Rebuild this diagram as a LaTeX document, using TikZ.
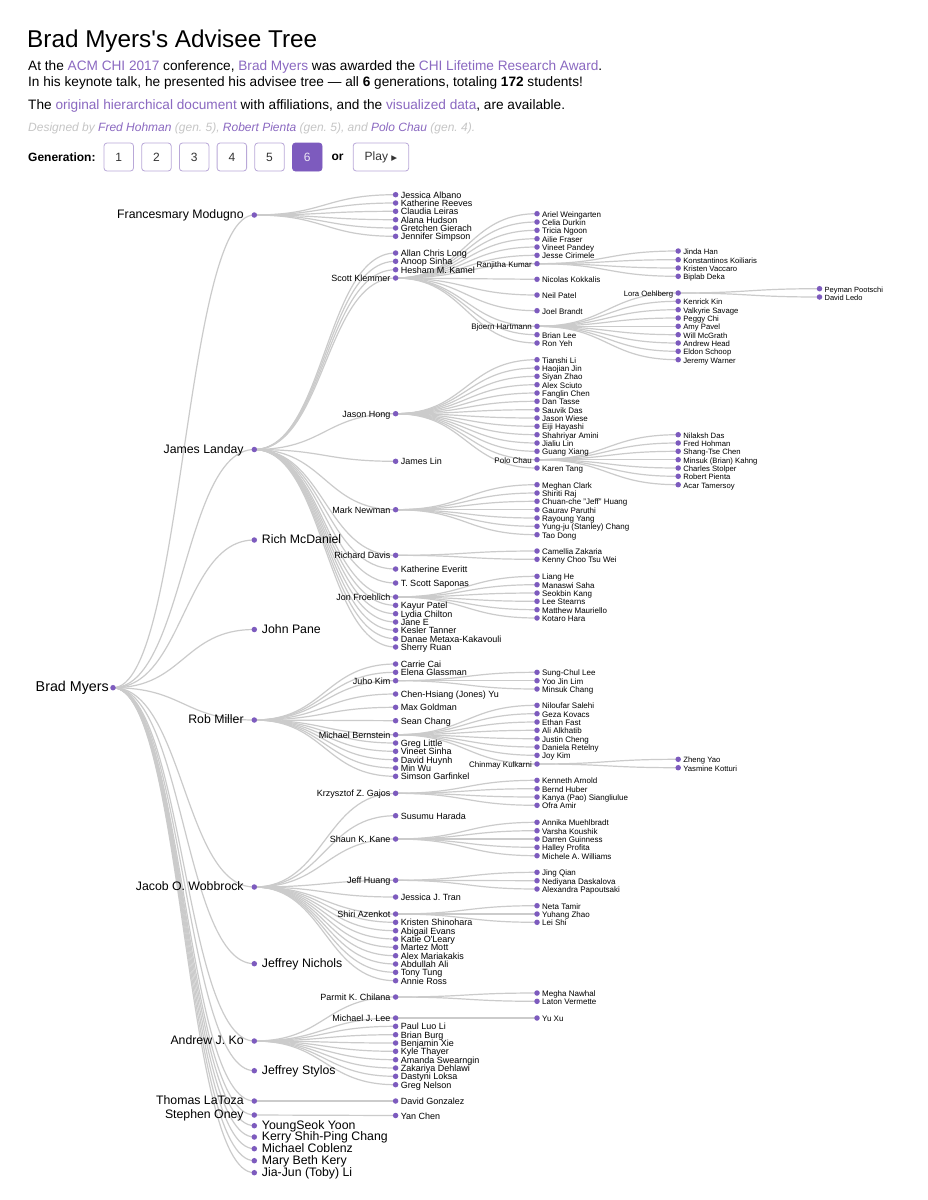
\documentclass[tikz,border=0pt]{standalone}
\usepackage{fontspec}
\setmainfont{Liberation Sans}
\newfontfamily\symfont{DejaVu Sans}
\usetikzlibrary{positioning}

\pgfdeclarelayer{back}
\pgfsetlayers{back,main}

\definecolor{dotpurple}{HTML}{7D5BBE}
\definecolor{linkpurple}{HTML}{8B69C1}
\definecolor{edgegray}{HTML}{CBCBCB}
\definecolor{creditgray}{HTML}{C6C6C6}
\definecolor{btnline}{HTML}{B9A8D8}

\begin{document}
\begin{tikzpicture}[
        x=1pt, y=-1pt,
        dot/.style={circle, fill=dotpurple, inner sep=0pt, minimum size=5.5pt},
        link/.style={draw=edgegray, line width=1.2pt,
            to path={.. controls +(70.65,0) and +(-70.65,0) .. (\tikztotarget)}},
        lab/.style={text height=.72em, text depth=0pt, inner sep=2pt},
        g1/.style={lab, font=\fontsize{14.3}{16}\selectfont, inner sep=1pt},
        g2/.style={lab, font=\fontsize{12.3}{14}\selectfont, inner sep=1.5pt},
        g3/.style={lab, font=\fontsize{9}{10}\selectfont},
        g4/.style={lab, font=\fontsize{8}{9}\selectfont},
        g5/.style={lab, font=\fontsize{7.7}{9}\selectfont},
        g6/.style={lab, font=\fontsize{7.5}{9}\selectfont},
        txt/.style={anchor=base west, inner sep=0pt, font=\fontsize{13.65}{16}\selectfont},
        btn/.style={draw=btnline, rounded corners=3pt, line width=.8pt,
            minimum width=29.5pt, minimum height=28pt, inner sep=0pt,
            text=black!80, font=\fontsize{12}{14}\selectfont}
    ]
    \useasboundingbox (0,0) rectangle (927,1200);
    \begin{pgfonlayer}{back}
        \fill[white] (0,0) rectangle (927,1200);
    \end{pgfonlayer}

    % header
    \node[anchor=base west, inner sep=0pt, font=\fontsize{24.3}{28}\selectfont] (title) at (27,47)
        {Brad Myers\textquotesingle s Advisee Tree};
    \node[txt] (award) at (28,70) {At the \textcolor{linkpurple}{ACM CHI 2017} conference,
        \textcolor{linkpurple}{Brad Myers} was awarded the \textcolor{linkpurple}{CHI Lifetime Research Award}.};
    \node[txt] (keynote) at (28,86) {In his keynote talk, he presented his advisee tree --- all
        \textbf{6} generations, totaling \textbf{172} students!};
    \node[txt] (avail) at (28,109) {The \textcolor{linkpurple}{original hierarchical document} with
        affiliations, and the \textcolor{linkpurple}{visualized data}, are available.};
    \node[txt, font=\itshape\fontsize{12}{14}\selectfont, text=creditgray] (credit) at (28,131)
        {Designed by \textcolor{linkpurple}{Fred Hohman} (gen.~5), \textcolor{linkpurple}{Robert Pienta}
        (gen.~5), and \textcolor{linkpurple}{Polo Chau} (gen.~4).};

    \node[anchor=base west, inner sep=0pt, font=\bfseries\fontsize{12}{14}\selectfont] (genlabel) at (28,161) {Generation:};
    \node[btn] (gen1) at (118.75,157) {1};
    \node[btn, right=7.4pt of gen1] (gen2) {2};
    \node[btn, right=7.4pt of gen2] (gen3) {3};
    \node[btn, right=7.4pt of gen3] (gen4) {4};
    \node[btn, right=7.4pt of gen4] (gen5) {5};
    \node[btn, right=7.4pt of gen5, fill=dotpurple, draw=dotpurple, text=white!85!dotpurple] (gen6) {6};
    \node[right=9pt of gen6, inner sep=0pt, font=\bfseries\fontsize{12}{14}\selectfont] (orword) {or};
    \node[btn, right=9pt of orword, minimum width=55.5pt] (play)
        {Play {\symfont\fontsize{7.5}{9}\selectfont ▶}};

    % root
    \node[dot, label={[g1]left:Brad Myers}] (myers) at (113,687.7) {};

    % second generation
    \foreach \id/\yy/\who in {modugno/215/Francesmary Modugno, landay/449.5/James Landay,
        miller/720/Rob Miller, wobbrock/887/Jacob O. Wobbrock, ko/1041/Andrew J. Ko,
        latoza/1101/Thomas LaToza, oney/1115/Stephen Oney}{
        \node[dot, label={[g2, xshift=-6pt]left:\who}] (\id) at (254.3,\yy) {};
        \begin{pgfonlayer}{back}
            \draw[link] (myers.center) to (\id.center);
        \end{pgfonlayer}
    }
    \foreach \yy/\who [count=\k] in {540/Rich McDaniel, 629.5/John Pane, 963.7/Jeffrey Nichols,
        1070.7/Jeffrey Stylos, 1125.7/YoungSeok Yoon, 1137/Kerry Shih-Ping Chang,
        1148.7/Michael Coblenz, 1160.7/Mary Beth Kery, 1172.7/Jia-Jun (Toby) Li}{
        \node[dot, label={[g2, xshift=3pt]right:\who}] (myers-\k) at (254.3,\yy) {};
        \begin{pgfonlayer}{back}
            \draw[link] (myers.center) to (myers-\k.center);
        \end{pgfonlayer}
    }

    % third generation
    \foreach \up/\id/\yy/\who in {landay/klemmer/278/Scott Klemmer, landay/hong/413.7/Jason Hong,
        landay/newman/509.7/Mark Newman, landay/davis/555.3/Richard Davis,
        landay/froehlich/597/Jon Froehlich, miller/juho/680.7/Juho Kim,
        miller/bernstein/734.7/Michael Bernstein, wobbrock/gajos/793.3/Krzysztof Z. Gajos,
        wobbrock/kane/839/Shaun K. Kane, wobbrock/jhuang/880.3/Jeff Huang,
        wobbrock/azenkot/914/Shiri Azenkot, ko/chilana/997/Parmit K. Chilana,
        ko/mjlee/1018/Michael J. Lee}{
        \node[dot, label={[g3]left:\who}] (\id) at (395.6,\yy) {};
        \begin{pgfonlayer}{back}
            \draw[link] (\up.center) to (\id.center);
        \end{pgfonlayer}
    }
    \foreach \up/\yy/\who [count=\k] in {modugno/194.7/Jessica Albano, modugno/203/Katherine Reeves,
        modugno/211.3/Claudia Leiras, modugno/219.7/Alana Hudson, modugno/228/Gretchen Gierach,
        modugno/236.3/Jennifer Simpson,
        landay/253/Allan Chris Long, landay/261.3/Anoop Sinha, landay/269.7/Hesham M. Kamel,
        landay/461.3/James Lin, landay/569/Katherine Everitt, landay/583/T. Scott Saponas,
        landay/605.3/Kayur Patel, landay/613.7/Lydia Chilton, landay/622/Jane E,
        landay/630.3/Kesler Tanner, landay/638.7/Danae Metaxa-Kakavouli, landay/647/Sherry Ruan,
        miller/664/Carrie Cai, miller/672.3/Elena Glassman, miller/694/Chen-Hsiang (Jones) Yu,
        miller/707.3/Max Goldman, miller/720.7/Sean Chang, miller/743/Greg Little,
        miller/751.3/Vineet Sinha, miller/759.7/David Huynh, miller/768/Min Wu,
        miller/776.3/Simson Garfinkel,
        wobbrock/815.7/Susumu Harada, wobbrock/897/Jessica J. Tran, wobbrock/922.3/Kristen Shinohara,
        wobbrock/930.7/Abigail Evans, wobbrock/939/Katie O\textquotesingle Leary,
        wobbrock/947.3/Martez Mott, wobbrock/955.7/Alex Mariakakis, wobbrock/964/Abdullah Ali,
        wobbrock/972.3/Tony Tung, wobbrock/980.7/Annie Ross,
        ko/1026.3/Paul Luo Li, ko/1034.7/Brian Burg, ko/1043/Benjamin Xie, ko/1051.3/Kyle Thayer,
        ko/1059.7/Amanda Swearngin, ko/1068/Zakariya Dehlawi, ko/1076.3/Dastyni Loksa,
        ko/1084.7/Greg Nelson, latoza/1101/David Gonzalez, oney/1115.5/Yan Chen}{
        \node[dot, label={[g3]right:\who}] (\up-\k) at (395.6,\yy) {};
        \begin{pgfonlayer}{back}
            \draw[link] (\up.center) to (\up-\k.center);
        \end{pgfonlayer}
    }

    % fourth generation
    \foreach \up/\id/\yy/\who in {klemmer/kumar/263.7/Ranjitha Kumar,
        klemmer/hartmann/326.3/Bjoern Hartmann, hong/chau/459.7/Polo Chau,
        bernstein/kulkarni/764/Chinmay Kulkarni}{
        \node[dot, label={[g4]left:\who}] (\id) at (537,\yy) {};
        \begin{pgfonlayer}{back}
            \draw[link] (\up.center) to (\id.center);
        \end{pgfonlayer}
    }
    \foreach \up/\yy/\who [count=\k] in {klemmer/213.7/Ariel Weingarten, klemmer/222/Celia Durkin,
        klemmer/230.3/Tricia Ngoon, klemmer/238.7/Ailie Fraser, klemmer/247/Vineet Pandey,
        klemmer/255.3/Jesse Cirimele, klemmer/279.3/Nicolas Kokkalis, klemmer/295/Neil Patel,
        klemmer/310.7/Joel Brandt, klemmer/334.7/Brian Lee, klemmer/343/Ron Yeh,
        hong/359.7/Tianshi Li, hong/368/Haojian Jin, hong/376.3/Siyan Zhao, hong/384.7/Alex Sciuto,
        hong/393/Fanglin Chen, hong/401.3/Dan Tasse, hong/409.7/Sauvik Das, hong/418/Jason Wiese,
        hong/426.3/Eiji Hayashi, hong/434.7/Shahriyar Amini, hong/443/Jialiu Lin,
        hong/451.3/Guang Xiang, hong/468/Karen Tang,
        newman/484.7/Meghan Clark, newman/493/Shiriti Raj, newman/501.3/Chuan-che "Jeff" Huang,
        newman/509.7/Gaurav Paruthi, newman/518/Rayoung Yang,
        newman/526.3/Yung-ju (Stanley) Chang, newman/534.7/Tao Dong,
        davis/551/Camellia Zakaria, davis/559.3/Kenny Choo Tsu Wei,
        froehlich/576.3/Liang He, froehlich/584.7/Manaswi Saha, froehlich/593/Seokbin Kang,
        froehlich/601.3/Lee Stearns, froehlich/609.7/Matthew Mauriello, froehlich/618/Kotaro Hara,
        juho/672.3/Sung-Chul Lee, juho/680.7/Yoo Jin Lim, juho/689/Minsuk Chang,
        bernstein/705.3/Niloufar Salehi, bernstein/713.7/Geza Kovacs, bernstein/722/Ethan Fast,
        bernstein/730.3/Ali Alkhatib, bernstein/738.7/Justin Cheng, bernstein/747/Daniela Retelny,
        bernstein/755.3/Joy Kim,
        gajos/780.3/Kenneth Arnold, gajos/788.7/Bernd Huber, gajos/797/Kanya (Pao) Siangliulue,
        gajos/805.3/Ofra Amir,
        kane/822.3/Annika Muehlbradt, kane/830.7/Varsha Koushik, kane/839/Darren Guinness,
        kane/847.3/Halley Profita, kane/855.7/Michele A. Williams,
        jhuang/872.3/Jing Qian, jhuang/880.7/Nediyana Daskalova, jhuang/889/Alexandra Papoutsaki,
        azenkot/905.7/Neta Tamir, azenkot/914/Yuhang Zhao, azenkot/922.3/Lei Shi,
        chilana/993/Megha Nawhal, chilana/1001.3/Laton Vermette, mjlee/1018/Yu Xu}{
        \node[dot, label={[g4]right:\who}] (\up-\k) at (537,\yy) {};
        \begin{pgfonlayer}{back}
            \draw[link] (\up.center) to (\up-\k.center);
        \end{pgfonlayer}
    }

    % fifth generation
    \node[dot, label={[g5]left:Lora Oehlberg}] (oehlberg) at (678.2,293) {};
    \begin{pgfonlayer}{back}
        \draw[link] (hartmann.center) to (oehlberg.center);
    \end{pgfonlayer}
    \foreach \up/\yy/\who [count=\k] in {kumar/251/Jinda Han, kumar/259.7/Konstantinos Koiliaris,
        kumar/268/Kristen Vaccaro, kumar/276.3/Biplab Deka,
        hartmann/301.3/Kenrick Kin, hartmann/309.7/Valkyrie Savage, hartmann/318/Peggy Chi,
        hartmann/326.3/Amy Pavel, hartmann/334.7/Will McGrath, hartmann/343/Andrew Head,
        hartmann/351.3/Eldon Schoop, hartmann/359.7/Jeremy Warner,
        chau/434.7/Nilaksh Das, chau/443/Fred Hohman, chau/451.3/Shang-Tse Chen,
        chau/459.7/Minsuk (Brian) Kahng, chau/468/Charles Stolper, chau/476.3/Robert Pienta,
        chau/484.7/Acar Tamersoy,
        kulkarni/759.3/Zheng Yao, kulkarni/767.7/Yasmine Kotturi}{
        \node[dot, label={[g5]right:\who}] (\up-\k) at (678.2,\yy) {};
        \begin{pgfonlayer}{back}
            \draw[link] (\up.center) to (\up-\k.center);
        \end{pgfonlayer}
    }

    % sixth generation
    \foreach \yy/\who [count=\k] in {288.7/Peyman Pootschi, 297/David Ledo}{
        \node[dot, label={[g6]right:\who}] (oehlberg-\k) at (819.5,\yy) {};
        \begin{pgfonlayer}{back}
            \draw[link] (oehlberg.center) to (oehlberg-\k.center);
        \end{pgfonlayer}
    }
\end{tikzpicture}
\end{document}
